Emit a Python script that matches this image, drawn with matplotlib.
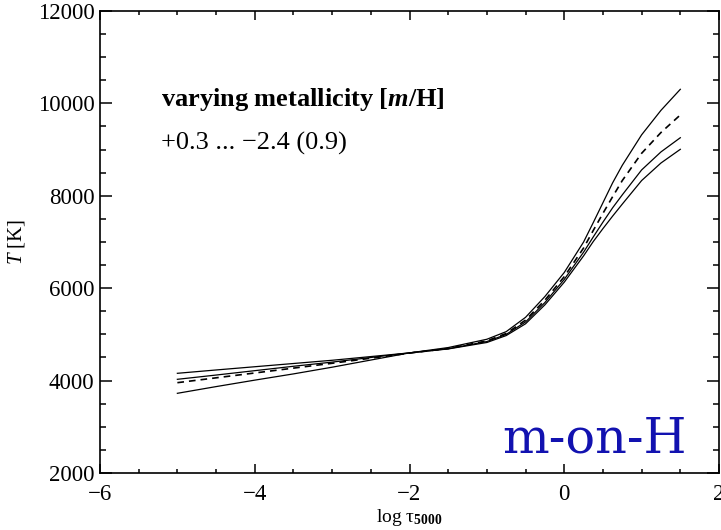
import matplotlib
matplotlib.use("Agg")
import matplotlib.pyplot as plt

# ---------------- DATA ----------------
log_tau = [-5.0, -4.5, -4.0, -3.5, -3.0, -2.5, -2.0, -1.5, -1.0, -0.75, -0.5, -0.25,
           0.0, 0.25, 0.375, 0.5, 0.625, 0.75, 1.0, 1.25, 1.5]

# temperatures (K) for the metallicity series
T_p03 = [3725, 3870, 4010, 4145, 4290, 4445, 4600, 4715, 4895, 5060, 5370, 5820,
         6340, 7000, 7420, 7850, 8280, 8660, 9320, 9850, 10305]
T_ref = [3955, 4060, 4165, 4270, 4375, 4485, 4595, 4695, 4860, 5020, 5310, 5740,
         6250, 6870, 7250, 7620, 7980, 8330, 8920, 9370, 9750]
T_m15 = [4028, 4120, 4215, 4310, 4400, 4500, 4600, 4690, 4845, 5000, 5270, 5690,
         6190, 6780, 7110, 7430, 7740, 8020, 8560, 8950, 9257]
T_m24 = [4158, 4230, 4300, 4370, 4440, 4520, 4600, 4685, 4825, 4975, 5230, 5640,
         6130, 6700, 7010, 7290, 7560, 7820, 8330, 8710, 9006]

plt.rcParams["font.family"] = ["Liberation Serif", "DejaVu Serif"]
plt.rcParams["mathtext.fontset"] = "custom"
plt.rcParams["mathtext.rm"] = "Liberation Serif"
plt.rcParams["mathtext.it"] = "Liberation Serif:italic"
plt.rcParams["mathtext.bf"] = "Liberation Serif:bold"
plt.rcParams["mathtext.bfit"] = "Liberation Serif:italic:bold"

fig = plt.figure(figsize=(7.21, 5.30), dpi=100)
ax = fig.add_axes([100 / 721, 57 / 530, 619 / 721, 462 / 530])

lw = 0.9
ax.plot(log_tau, T_p03, color="black", lw=lw)
ax.plot(log_tau, T_ref, color="black", lw=1.2, ls=(0, (4, 3)))
ax.plot(log_tau, T_m15, color="black", lw=lw)
ax.plot(log_tau, T_m24, color="black", lw=lw)

ax.set_xlim(-6, 2)
ax.set_ylim(2000, 12000)
ax.set_xticks([-6, -4, -2, 0, 2])
ax.set_yticks([2000, 4000, 6000, 8000, 10000, 12000])
ax.set_xticks([v / 2 for v in range(-12, 5)], minor=True)
ax.set_yticks(list(range(2000, 12001, 500)), minor=True)

for s in ax.spines.values():
    s.set_linewidth(1.2)
ax.tick_params(which="both", direction="in", top=True, right=True,
               labelsize=16.5, width=1.1)
ax.tick_params(axis="y", which="major", length=8.5, pad=4)
ax.tick_params(axis="y", which="minor", length=4.5)
ax.tick_params(axis="x", which="major", length=6.5, pad=8)
ax.tick_params(axis="x", which="minor", length=3)

ax.set_ylabel(r"$\mathit{T}$ [K]", fontsize=15, labelpad=8)
ax.set_xlabel(r"log $\mathrm{τ}_{\mathbf{5000}}$", fontsize=14, labelpad=1)

ax.text(0.099, 0.795, r"$\mathbf{varying\ metallicity\ [}\mathbfit{m}\mathbf{/H]}$",
        transform=ax.transAxes, fontsize=19)
ax.text(0.099, 0.70, "+0.3 ... \u22122.4 (0.9)", transform=ax.transAxes, fontsize=19)

ax.text(0.948, 0.045, "m-on-H", transform=ax.transAxes, ha="right", va="baseline",
        fontsize=35.5, color="#1212b0", family="DejaVu Serif")

fig.savefig("out.png", dpi=100)
